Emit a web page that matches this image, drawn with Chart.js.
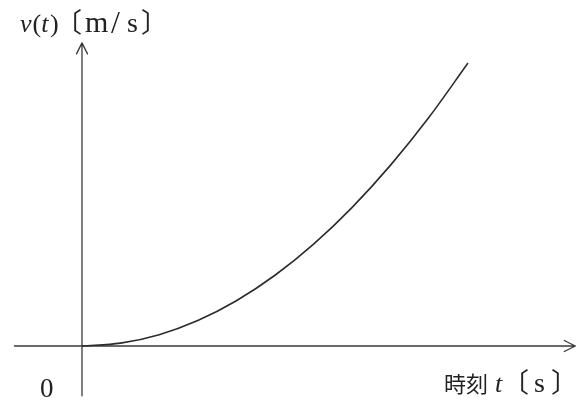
<!DOCTYPE html>
<html>
<head>
<meta charset="utf-8">
<script src="https://cdn.jsdelivr.net/npm/chart.js@4/dist/chart.umd.min.js"></script>
<style>
  html, body { margin: 0; padding: 0; background: #fff; }
  #wrap { width: 579px; height: 405px; }
</style>
</head>
<body>
<div id="wrap"><canvas id="c" width="579" height="405"></canvas></div>
<script>
// time t [s] and velocity v(t) [m/s]
const times = [0, 1, 2, 3, 4, 5, 6, 7, 8, 9, 10];
const velocities = [0, 1, 4, 9, 16, 25, 36, 49, 64, 81, 100];

// visible ranges of the two axes (in data units)
const tRange = [-2.124, 12.876];
const vRange = [-20.85, 122.26];
const tAxisExtent = [-1.75, 12.78];
const vAxisExtent = [-17.6, 107.1];

const ink = '#3a3a3a';
const serif = '"Liberation Serif", "DejaVu Serif", serif';
const cjk = '"Noto Sans CJK JP", sans-serif';

// draws the arrowed axes and the axis labels
const axesPlugin = {
  id: 'arrowAxes',
  beforeDatasetsDraw(chart) {
    const { ctx, scales: { x, y } } = chart;
    const x0 = x.getPixelForValue(0), y0 = y.getPixelForValue(0);
    const xl = x.getPixelForValue(tAxisExtent[0]), xr = x.getPixelForValue(tAxisExtent[1]);
    const yb = y.getPixelForValue(vAxisExtent[0]), yt = y.getPixelForValue(vAxisExtent[1]);
    ctx.save();
    ctx.strokeStyle = ink;
    ctx.lineWidth = 1.3;
    ctx.lineCap = 'round';
    ctx.lineJoin = 'round';
    ctx.beginPath();
    ctx.moveTo(xl, y0); ctx.lineTo(xr, y0);
    ctx.moveTo(x0, yb); ctx.lineTo(x0, yt);
    // arrow heads
    ctx.moveTo(xr - 11, y0 - 5.5); ctx.lineTo(xr, y0); ctx.lineTo(xr - 11, y0 + 5.5);
    ctx.moveTo(x0 - 5.5, yt + 11); ctx.lineTo(x0, yt); ctx.lineTo(x0 + 5.5, yt + 11);
    ctx.stroke();

    ctx.fillStyle = '#222';
    ctx.textBaseline = 'alphabetic';
    // place text so that its inked left edge sits at `left`
    const putLeft = (txt, font, left, base) => {
      ctx.font = font;
      const m = ctx.measureText(txt);
      ctx.fillText(txt, left + m.actualBoundingBoxLeft, base);
      return left + m.actualBoundingBoxLeft + m.width;
    };
    // place text so that its inked right edge sits at `right`
    const putRight = (txt, font, right, base) => {
      ctx.font = font;
      const m = ctx.measureText(txt);
      ctx.fillText(txt, right - m.actualBoundingBoxRight, base);
    };
    const put = (txt, font, px, base) => {
      ctx.font = font;
      ctx.fillText(txt, px, base);
      return px + ctx.measureText(txt).width;
    };

    // vertical axis label: v(t) 〔m/s〕
    let px = putLeft('v', 'italic 26px ' + serif, 20, 32);
    px = put('(', '26px ' + serif, px + 1, 32);
    px = put('t', 'italic 26px ' + serif, px, 32);
    put(')', '26px ' + serif, px + 1.5, 32);
    putLeft('〔', '27px ' + cjk, 74, 32);
    putLeft('m', '30px ' + serif, 85, 32);
    putLeft('/', '32px ' + serif, 111, 33);
    putLeft('s', '28px ' + serif, 128, 32);
    putRight('〕', '27px ' + cjk, 149, 32);

    // origin
    putLeft('0', '27px ' + serif, 41, 397);

    // horizontal axis label: 時刻 t 〔s〕
    putLeft('時刻', '22px ' + cjk, 445, 392);
    putLeft('t', 'italic 26px ' + serif, 496, 392);
    putLeft('〔', '27px ' + cjk, 521, 392);
    putLeft('s', '28px ' + serif, 535, 392);
    putRight('〕', '27px ' + cjk, 559, 392);
    ctx.restore();
  }
};

new Chart(document.getElementById('c'), {
  type: 'line',
  data: {
    labels: times,
    datasets: [{
      data: times.map((t, i) => ({ x: t, y: velocities[i] })),
      borderColor: '#2b2b2b',
      borderWidth: 1.6,
      pointRadius: 0,
      fill: false,
      cubicInterpolationMode: 'monotone'
    }]
  },
  options: {
    responsive: false,
    animation: false,
    events: [],
    layout: { padding: 0 },
    plugins: { legend: { display: false }, tooltip: { enabled: false } },
    scales: {
      x: { type: 'linear', min: tRange[0], max: tRange[1], display: false },
      y: { type: 'linear', min: vRange[0], max: vRange[1], display: false }
    }
  },
  plugins: [axesPlugin]
});
</script>
</body>
</html>
